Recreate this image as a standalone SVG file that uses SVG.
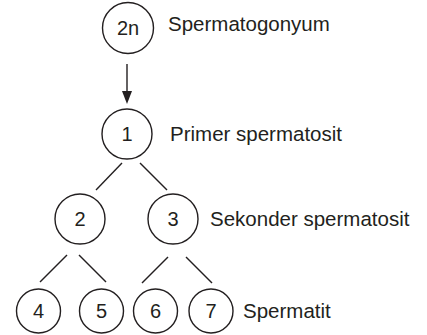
<svg xmlns="http://www.w3.org/2000/svg" width="427" height="335" viewBox="0 0 427 335">
<style>
.n circle{fill:#fff;stroke:#231f20;stroke-width:1.4}
.n text{font-family:"Liberation Sans",Arial,sans-serif;font-size:20px;fill:#231f20;text-anchor:middle}
.lbl{font-family:"Liberation Sans",Arial,sans-serif;font-size:20.5px;fill:#231f20}
.c line{stroke:#231f20;stroke-width:1.4}
</style>
<defs>
<marker id="ah" markerWidth="10" markerHeight="12" refX="5" refY="12" orient="auto-start-reverse" markerUnits="userSpaceOnUse" viewBox="0 0 10 12">
<path d="M0,0 L10,0 L5,12 Z" fill="#231f20" transform="rotate(0)"/>
</marker>
</defs>
<rect width="427" height="335" fill="#fff"/>
<g class="c" id="connectors">
<line x1="127" y1="64" x2="127" y2="92"/>
<path d="M122,91 L132,91 L127,104 Z" fill="#231f20"/>
<line x1="122" y1="163" x2="96" y2="190"/>
<line x1="140" y1="163" x2="167" y2="190"/>
<line x1="67" y1="255" x2="40" y2="282"/>
<line x1="79" y1="255" x2="106" y2="282"/>
<line x1="168" y1="257" x2="142" y2="283"/>
<line x1="186" y1="257" x2="212" y2="283"/>
</g>
<g class="n" id="n2n"><circle cx="128" cy="28" r="25.5"/><text x="128" y="35">2n</text></g>
<g class="n" id="n1"><circle cx="127" cy="134" r="25"/><text x="127" y="141">1</text></g>
<g class="n" id="n2"><circle cx="80" cy="219" r="25"/><text x="80" y="226">2</text></g>
<g class="n" id="n3"><circle cx="173" cy="219" r="25"/><text x="173" y="226">3</text></g>
<g class="n" id="n4"><circle cx="38.5" cy="311" r="22"/><text x="38.5" y="318">4</text></g>
<g class="n" id="n5"><circle cx="101.5" cy="311" r="22"/><text x="101.5" y="318">5</text></g>
<g class="n" id="n6"><circle cx="155.5" cy="311" r="22"/><text x="155.5" y="318">6</text></g>
<g class="n" id="n7"><circle cx="211" cy="311" r="22"/><text x="211" y="318">7</text></g>
<g id="labels">
<text class="lbl" x="168" y="31">Spermatogonyum</text>
<text class="lbl" x="170" y="141">Primer spermatosit</text>
<text class="lbl" x="210" y="226">Sekonder spermatosit</text>
<text class="lbl" x="243" y="318">Spermatit</text>
</g>
</svg>
